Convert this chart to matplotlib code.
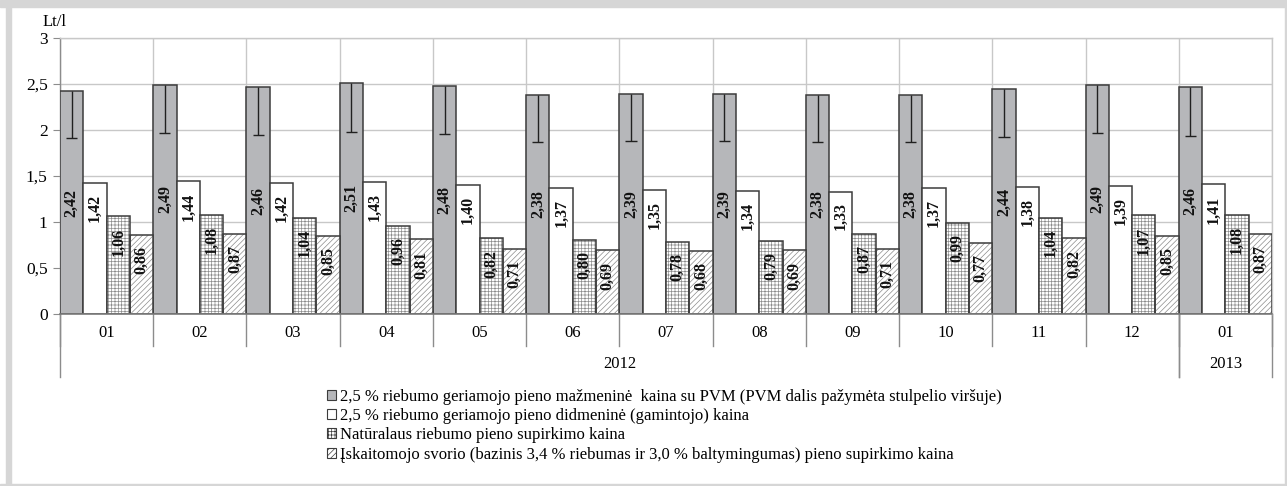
import matplotlib
matplotlib.use("Agg")
import matplotlib.pyplot as plt
from matplotlib.patches import Rectangle, Patch
from matplotlib.transforms import blended_transform_factory
import numpy as np

# ---- data ----
months = ["01", "02", "03", "04", "05", "06", "07", "08", "09", "10", "11", "12", "01"]
years = ["2012", "2013"]
year_span = [12, 1]  # number of months belonging to each year label
retail = [2.42, 2.49, 2.46, 2.51, 2.48, 2.38, 2.39, 2.39, 2.38, 2.38, 2.44, 2.49, 2.46]
vat_part = [0.51, 0.52, 0.52, 0.53, 0.53, 0.51, 0.51, 0.51, 0.51, 0.51, 0.52, 0.52, 0.53]
wholesale = [1.42, 1.44, 1.42, 1.43, 1.40, 1.37, 1.35, 1.34, 1.33, 1.37, 1.38, 1.39, 1.41]
natural = [1.06, 1.08, 1.04, 0.96, 0.82, 0.80, 0.78, 0.79, 0.87, 0.99, 1.04, 1.07, 1.08]
recalc = [0.86, 0.87, 0.85, 0.81, 0.71, 0.69, 0.68, 0.69, 0.71, 0.77, 0.82, 0.85, 0.87]
legend_labels = [
    "2,5 % riebumo geriamojo pieno mažmeninė  kaina su PVM (PVM dalis pažymėta stulpelio viršuje)",
    "2,5 % riebumo geriamojo pieno didmeninė (gamintojo) kaina",
    "Natūralaus riebumo pieno supirkimo kaina",
    "Įskaitomojo svorio (bazinis 3,4 % riebumas ir 3,0 % baltymingumas) pieno supirkimo kaina",
]
y_label = "Lt/l"

SERIF = ["Liberation Serif", "DejaVu Serif"]
plt.rcParams["font.family"] = SERIF
plt.rcParams["hatch.linewidth"] = 0.5

W, H = 1287, 486
fig = plt.figure(figsize=(W / 100, H / 100), dpi=100)
fig.patch.set_facecolor("white")

# outer frame
frame_col = "#d6d6d6"
fig.patches.append(Rectangle((0, 1 - 7 / H), 1, 7 / H, transform=fig.transFigure, color=frame_col, zorder=0))
fig.patches.append(Rectangle((6 / W, 0), 5 / W, 1, transform=fig.transFigure, color=frame_col, zorder=0))
fig.patches.append(Rectangle((0, 0), 1, 2 / H, transform=fig.transFigure, color=frame_col, zorder=0))
fig.patches.append(Rectangle((1 - 2 / W, 0), 2 / W, 1, transform=fig.transFigure, color=frame_col, zorder=0))

x0, x1 = 60, 1272
y_top, y_bot = 37.7, 314
ax = fig.add_axes([x0 / W, 1 - y_bot / H, (x1 - x0) / W, (y_bot - y_top) / H])

n = len(months)
x = np.arange(n)
bw = 0.25
edge = "#3c3c3c"
lw = 1.1
gray = "#b6b7ba"

series = [retail, wholesale, natural, recalc]
offsets = [-1.5 * bw, -0.5 * bw, 0.5 * bw, 1.5 * bw]

ax.bar(x + offsets[0], retail, bw, color=gray, edgecolor=edge, linewidth=lw, zorder=3)
ax.bar(x + offsets[1], wholesale, bw, color="white", edgecolor=edge, linewidth=lw, zorder=3)
ax.bar(x + offsets[2], natural, bw, color="white", edgecolor="#8c8c8c", linewidth=0, hatch="+++++", zorder=3)
ax.bar(x + offsets[2], natural, bw, fill=False, edgecolor=edge, linewidth=lw, zorder=4)
ax.bar(x + offsets[3], recalc, bw, color="white", edgecolor="#8c8c8c", linewidth=0, hatch="//////", zorder=3)
ax.bar(x + offsets[3], recalc, bw, fill=False, edgecolor=edge, linewidth=lw, zorder=4)

# VAT error bars (line from top down, cap at bottom)
r = np.array(retail)
v = np.array(vat_part)
ax.vlines(x + offsets[0], r - v, r, color="#202020", linewidth=1.0, zorder=5)
ax.hlines(r - v, x + offsets[0] - 0.06, x + offsets[0] + 0.06, color="#202020", linewidth=1.0, zorder=5)

# data labels
def fmt(val):
    return f"{val:.2f}".replace(".", ",")

lab_kw = dict(rotation=90, ha="center", fontsize=11.5, fontweight="bold", color="#111111", zorder=6,
              family=SERIF)
for i in range(n):
    ax.text(x[i] + offsets[0], retail[i] / 2, fmt(retail[i]), va="center", **lab_kw)
    for s, off in zip(series[1:], offsets[1:]):
        ax.annotate(fmt(s[i]), (x[i] + off, s[i]), xytext=(0, -8), textcoords="offset points",
                    va="top", **lab_kw)

# axes styling
ax.set_xlim(-0.5, n - 0.5)
ax.set_ylim(0, 3)
ax.set_yticks([0, 0.5, 1, 1.5, 2, 2.5, 3])
ax.set_yticklabels(["0", "0,5", "1", "1,5", "2", "2,5", "3"], fontsize=12.5)
ax.tick_params(axis="y", length=5, width=0.8, color="#8c8c8c", pad=4)
ax.set_xticks([])
grid_col = "#c8c8c8"
for yv in [0.5, 1, 1.5, 2, 2.5, 3]:
    ax.axhline(yv, color=grid_col, linewidth=1.0, zorder=1)
for xv in np.arange(-0.5, n, 1.0):
    ax.axvline(xv, color=grid_col, linewidth=1.0, zorder=1)
for sp in ["top", "right"]:
    ax.spines[sp].set_color(grid_col)
    ax.spines[sp].set_linewidth(1.0)
ax.spines["left"].set_color("#8c8c8c")
ax.spines["bottom"].set_color("#7a7a7a")
ax.spines["left"].set_linewidth(1.0)
ax.spines["bottom"].set_linewidth(1.2)
ax.spines["bottom"].set_zorder(6)

# multi-level x axis
tr = blended_transform_factory(ax.transData, ax.transAxes)
ph = y_bot - y_top
def ay(px):  # pixel y below the plot -> axes coordinate
    return (y_bot - px) / ph

for i, m in enumerate(months):
    ax.text(x[i], ay(333), m, transform=tr, ha="center", va="center", fontsize=12)
for xv in np.arange(-0.5, n, 1.0):
    ax.plot([xv, xv], [0, ay(346)], transform=tr, color="#8c8c8c", lw=1.0, clip_on=False)
start = -0.5
for yname, span in zip(years, year_span):
    end = start + span
    ax.plot([start, start], [0, ay(377)], transform=tr, color="#8c8c8c", lw=1.0, clip_on=False)
    ax.plot([end, end], [0, ay(377)], transform=tr, color="#8c8c8c", lw=1.0, clip_on=False)
    ax.text((start + end) / 2, ay(364), yname, transform=tr, ha="center", va="center", fontsize=12)
    start = end

fig.text(55 / W, 1 - 22 / H, y_label, ha="center", va="center", fontsize=12)

# legend
handles = [
    Patch(facecolor=gray, edgecolor=edge, linewidth=0.8),
    Patch(facecolor="white", edgecolor=edge, linewidth=0.8),
    Patch(facecolor="white", edgecolor=edge, linewidth=0.8, hatch="+++++"),
    Patch(facecolor="white", edgecolor=edge, linewidth=0.8, hatch="//////"),
]
leg = fig.legend(handles, legend_labels, loc="upper left", bbox_to_anchor=(327 / W, 1 - 388.5 / H),
                 frameon=False, fontsize=12, handlelength=0.55, handleheight=0.55, handletextpad=0.2,
                 labelspacing=0.2, borderpad=0, borderaxespad=0)

fig.savefig("out.png", dpi=100, facecolor="white")
